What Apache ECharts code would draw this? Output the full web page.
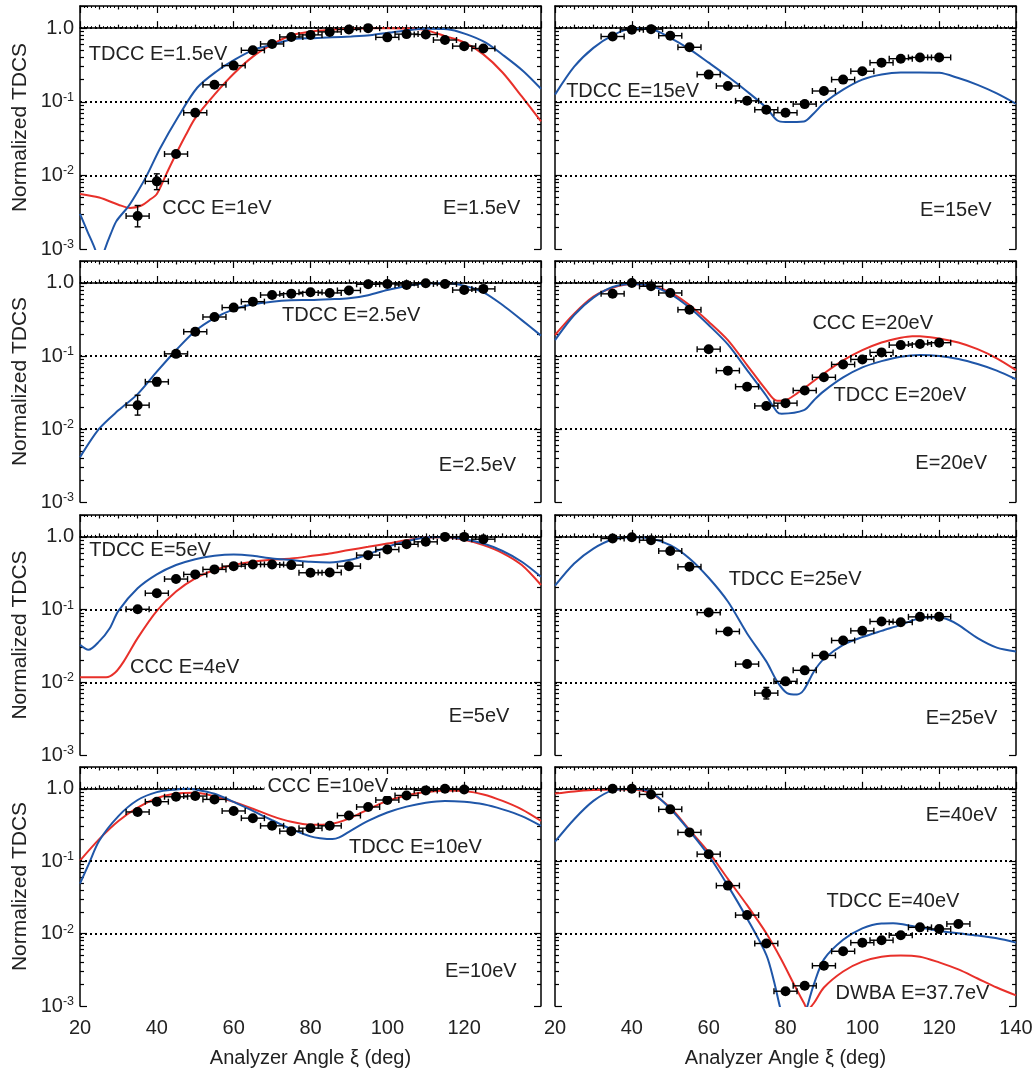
<!DOCTYPE html>
<html>
<head>
<meta charset="utf-8">
<script src="https://cdn.jsdelivr.net/npm/echarts@6/dist/echarts.min.js"></script>
<style>
  html, body { margin: 0; background: #fff; }
  #main { width: 1036px; height: 1074px; }
</style>
</head>
<body>
<div id="main"></div>
<script>
// TDCS panels, 8 energies, log y axis

const RED = '#e8302a';
const BLUE = '#1f56a8';
const INK = '#222';
const FONT = '"Liberation Sans", Arial, sans-serif';
const X_ERR = 3; // analyzer acceptance, deg
const Y_MIN = 0.001;
const Y_MAX = 2;
const GRID_VALUES = [1, 0.1, 0.01];
const MANTISSAS = [2, 3, 4, 5, 6, 7, 8, 9];
const DECADES = [-3, -2, -1, 0];

const angles = [35, 40, 45, 50, 55, 60, 65, 70, 75, 80, 85, 90, 95, 100, 105, 110, 115, 120, 125];

// measured points (same order as angles)
const exp1p5 = [0.0028, 0.0083, 0.0195, 0.071, 0.17, 0.31, 0.50, 0.61, 0.76, 0.81, 0.89, 0.96, 1.0, 0.75, 0.83, 0.82, 0.69, 0.57, 0.53];
const exp15 = [0.77, 0.95, 0.97, 0.79, 0.55, 0.234, 0.164, 0.103, 0.078, 0.071, 0.093, 0.14, 0.20, 0.26, 0.34, 0.385, 0.40, 0.40];
const exp2p5 = [0.0212, 0.0443, 0.107, 0.215, 0.342, 0.46, 0.555, 0.684, 0.714, 0.745, 0.73, 0.79, 0.96, 0.97, 0.94, 0.99, 0.97, 0.80, 0.83];
const exp20 = [0.71, 1.0, 0.90, 0.73, 0.43, 0.124, 0.063, 0.038, 0.0207, 0.0226, 0.0337, 0.051, 0.0766, 0.0897, 0.112, 0.141, 0.146, 0.152];
const exp5 = [0.101, 0.168, 0.263, 0.305, 0.357, 0.396, 0.418, 0.418, 0.409, 0.321, 0.324, 0.396, 0.561, 0.67, 0.79, 0.855, 1.0, 1.0, 0.93];
const exp25 = [0.95, 0.99, 0.90, 0.64, 0.388, 0.091, 0.050, 0.0178, 0.0071, 0.0103, 0.0146, 0.0234, 0.0376, 0.051, 0.0686, 0.067, 0.0794, 0.080];
const exp10 = [0.479, 0.664, 0.776, 0.794, 0.714, 0.494, 0.393, 0.308, 0.26, 0.286, 0.308, 0.427, 0.561, 0.70, 0.81, 0.95, 1.0, 0.98];
const exp40 = [1.0, 1.0, 0.836, 0.52, 0.25, 0.125, 0.046, 0.018, 0.0073, 0.0016, 0.0019, 0.0036, 0.0057, 0.0075, 0.0081, 0.0095, 0.0122, 0.0116, 0.0136];

// vertical error bars, by point index: [low, high]
const err1p5 = {0: [0.0020, 0.0039], 1: [0.0064, 0.0105]};
const err2p5 = {0: [0.0155, 0.029], 1: [0.039, 0.050]};
const err25 = {8: [0.0059, 0.0085]};

// theory curves [angle, TDCS]
const ccc1 = [[20, 0.0056], [25, 0.005], [30, 0.004], [33, 0.0036], [36, 0.0039], [38, 0.0046], [40, 0.0056], [42.5, 0.0105], [45, 0.0195], [47.5, 0.035], [50, 0.06], [55, 0.125], [60, 0.24], [65, 0.41], [70, 0.60], [75, 0.80], [80, 0.90], [85, 0.95], [90, 0.98], [95, 0.99], [100, 1.0], [105, 0.99], [110, 0.94], [115, 0.78], [120, 0.64], [125, 0.44], [130, 0.25], [135, 0.118], [140, 0.054]];
const tdcc1p5 = [[20, 0.003], [22, 0.0017], [23.9, 0.001], [25.2, 0.0006], [26.5, 0.001], [28, 0.0016], [29.5, 0.0024], [32.6, 0.0038], [35, 0.006], [37.4, 0.01], [40.8, 0.023], [45.6, 0.063], [50.5, 0.155], [55.6, 0.26], [60.5, 0.38], [65.6, 0.52], [70.3, 0.60], [75.5, 0.71], [80.6, 0.73], [85.6, 0.75], [90.6, 0.77], [95.5, 0.80], [100.5, 0.87], [105.4, 0.94], [110.4, 0.98], [115.6, 0.97], [120.5, 0.83], [125.5, 0.64], [130.4, 0.42], [135.4, 0.26], [140, 0.15]];
const tdcc15 = [[20, 0.125], [25, 0.30], [30, 0.54], [35, 0.80], [40, 0.98], [45, 0.97], [50, 0.74], [55, 0.52], [60, 0.34], [65, 0.22], [70, 0.138], [75, 0.083], [77.8, 0.056], [80, 0.053], [84.8, 0.054], [87.4, 0.07], [90, 0.096], [95, 0.146], [100, 0.2], [105, 0.235], [110, 0.25], [115, 0.25], [120, 0.247], [125, 0.21], [130, 0.17], [135, 0.13], [140, 0.094]];
const tdcc2p5 = [[20, 0.0041], [25, 0.0101], [30, 0.018], [35, 0.030], [40, 0.061], [45, 0.12], [50, 0.22], [55, 0.33], [60, 0.435], [65, 0.51], [70, 0.555], [75, 0.58], [80, 0.585], [85, 0.60], [90, 0.62], [95, 0.68], [100, 0.80], [105, 0.91], [110, 0.98], [115, 0.99], [120, 0.92], [125, 0.745], [130, 0.50], [135, 0.31], [140, 0.19]];
const ccc20 = [[20, 0.194], [25, 0.38], [30, 0.65], [35, 0.86], [40, 0.97], [45, 0.92], [50, 0.745], [55, 0.50], [60, 0.295], [65, 0.165], [70, 0.075], [75, 0.034], [77.8, 0.0243], [80, 0.0248], [82.6, 0.0297], [85, 0.0367], [90, 0.0576], [95, 0.087], [100, 0.12], [105, 0.153], [110, 0.178], [113, 0.187], [115, 0.186], [120, 0.174], [125, 0.153], [130, 0.124], [135, 0.093], [140, 0.064]];
const tdcc20 = [[20, 0.165], [25, 0.364], [30, 0.63], [35, 0.88], [40, 0.97], [45, 0.91], [50, 0.71], [55, 0.46], [60, 0.265], [65, 0.144], [70, 0.064], [75, 0.0285], [77.8, 0.0172], [79, 0.0162], [84.8, 0.0181], [87.4, 0.0248], [90, 0.033], [95, 0.0508], [100, 0.0697], [105, 0.085], [110, 0.0977], [115, 0.103], [120, 0.1], [125, 0.091], [130, 0.0775], [135, 0.063], [140, 0.048]];
const ccc4 = [[20, 0.0117], [26.8, 0.0117], [29.1, 0.0135], [31.4, 0.0194], [35, 0.0405], [40, 0.096], [45, 0.177], [50, 0.269], [55, 0.35], [60, 0.41], [65, 0.455], [70, 0.484], [75, 0.505], [80, 0.544], [85, 0.59], [90, 0.66], [95, 0.73], [100, 0.81], [105, 0.9], [110, 0.98], [115, 0.99], [120, 0.91], [125, 0.77], [130, 0.6], [135, 0.41], [140, 0.218]];
const tdcc5 = [[20, 0.0328], [22.2, 0.028], [25, 0.0365], [27.7, 0.055], [30, 0.096], [35, 0.196], [40, 0.305], [45, 0.41], [50, 0.494], [55, 0.55], [60, 0.573], [65, 0.55], [70, 0.505], [75, 0.48], [80, 0.455], [85, 0.445], [90, 0.48], [95, 0.573], [100, 0.73], [105, 0.87], [110, 0.98], [115, 1.0], [120, 0.93], [125, 0.81], [130, 0.64], [135, 0.455], [140, 0.283]];
const tdcc25 = [[20, 0.213], [25, 0.43], [30, 0.69], [35, 0.92], [40, 0.99], [45, 0.95], [50, 0.77], [55, 0.505], [60, 0.274], [65, 0.129], [70, 0.047], [75, 0.0194], [77.8, 0.0103], [80.4, 0.0071], [83, 0.0068], [84.8, 0.0079], [87.4, 0.0141], [90, 0.021], [95, 0.0328], [100, 0.0418], [105, 0.051], [110, 0.0617], [115, 0.076], [120, 0.0785], [122.6, 0.072], [125, 0.0617], [130, 0.0405], [135, 0.030], [140, 0.0266]];
const ccc10 = [[20, 0.102], [25, 0.202], [30, 0.36], [35, 0.55], [40, 0.74], [45, 0.863], [50, 0.88], [55, 0.79], [60, 0.66], [65, 0.53], [70, 0.42], [75, 0.35], [80, 0.318], [85, 0.325], [90, 0.388], [95, 0.52], [100, 0.68], [105, 0.81], [110, 0.9], [115, 0.95], [120, 0.93], [125, 0.836], [130, 0.68], [135, 0.52], [140, 0.36]];
const tdcc10 = [[20, 0.049], [22.3, 0.092], [25, 0.192], [30, 0.42], [35, 0.70], [40, 0.9], [45, 0.98], [48, 1.0], [50, 0.98], [55, 0.854], [60, 0.66], [65, 0.494], [70, 0.368], [75, 0.277], [80, 0.22], [82.5, 0.208], [85.7, 0.202], [87.5, 0.213], [90, 0.255], [95, 0.36], [100, 0.47], [105, 0.567], [110, 0.643], [115, 0.68], [120, 0.66], [125, 0.61], [130, 0.52], [135, 0.42], [140, 0.308]];
const dwba37 = [[20, 0.86], [25, 0.92], [30, 0.96], [35, 0.98], [40, 0.98], [45, 0.86], [50, 0.55], [55, 0.27], [60, 0.133], [65, 0.057], [70, 0.0247], [75, 0.0101], [78.7, 0.0046], [82.2, 0.002], [84.8, 0.0011], [85.8, 0.0009], [87.4, 0.0011], [90, 0.0018], [95, 0.003], [100, 0.0041], [105, 0.0048], [110, 0.005], [115, 0.0048], [120, 0.004], [125, 0.0032], [130, 0.0024], [135, 0.0018], [140, 0.0014]];
const tdcc40 = [[20, 0.186], [25, 0.38], [30, 0.68], [35, 0.95], [40, 1.0], [45, 0.9], [50, 0.53], [55, 0.263], [60, 0.12], [65, 0.046], [70, 0.0162], [75, 0.0051], [77, 0.0022], [78.5, 0.001], [82, 0.0002], [85.7, 0.001], [87.4, 0.002], [90, 0.0044], [95, 0.0082], [100, 0.0118], [105, 0.0138], [108, 0.0139], [110, 0.0136], [115, 0.0121], [120, 0.0109], [125, 0.0101], [130, 0.0094], [135, 0.0086], [140, 0.0075]];

// panel text: [label, angle at left edge, TDCS at middle, white box]
const panels = [
  {exp: exp1p5, err: err1p5, curves: [[ccc1, RED], [tdcc1p5, BLUE]],
   notes: [['TDCC E=1.5eV', 22.3, 0.44], ['CCC E=1eV', 41.4, 0.0035], ['E=1.5eV', 114.5, 0.0035]]},
  {exp: exp15, err: {}, curves: [[tdcc15, BLUE]],
   notes: [['TDCC E=15eV', 22.9, 0.138], ['E=15eV', 115, 0.0033]]},
  {exp: exp2p5, err: err2p5, curves: [[tdcc2p5, BLUE]],
   notes: [['TDCC E=2.5eV', 72.6, 0.36], ['E=2.5eV', 113.4, 0.0032]]},
  {exp: exp20, err: {}, curves: [[ccc20, RED], [tdcc20, BLUE]],
   notes: [['CCC E=20eV', 87, 0.28], ['TDCC E=20eV', 92.5, 0.029], ['E=20eV', 113.8, 0.0034]]},
  {exp: exp5, err: {}, curves: [[ccc4, RED], [tdcc5, BLUE]],
   notes: [['TDCC E=5eV', 22.4, 0.64], ['CCC E=4eV', 33, 0.0158], ['E=5eV', 116, 0.0034]]},
  {exp: exp25, err: err25, curves: [[tdcc25, BLUE]],
   notes: [['TDCC E=25eV', 65.2, 0.26], ['E=25eV', 116.5, 0.0032]]},
  {exp: exp10, err: {}, curves: [[ccc10, RED], [tdcc10, BLUE]],
   notes: [['CCC E=10eV', 68, 1.09, true], ['TDCC E=10eV', 90, 0.155], ['E=10eV', 115, 0.003]]},
  {exp: exp40, err: {}, curves: [[dwba37, RED], [tdcc40, BLUE]],
   notes: [['E=40eV', 116.5, 0.43], ['TDCC E=40eV', 90.7, 0.0275], ['DWBA E=37.7eV', 93, 0.0015]]}
];

const COL_LEFT = [80, 555];
const PANEL_W = 461;
const ROW_TOP = [6, 261, 515, 767];
const ROW_H = [243, 241, 240, 239];
const FS = 20;

const LOG_TOP = Math.log10(Y_MAX);
const minorLog = [];
DECADES.forEach(d => MANTISSAS.forEach(m => {
    const v = d + Math.log10(m);
    if (v < LOG_TOP - 1e-9) minorLog.push(v);
}));

const frame = {lineStyle: {color: '#000', width: 1.5}};
const tickStyle = {color: '#000', width: 1.2};

function logLabel(v) {
    const e = Math.log10(v);
    if (Math.abs(e - Math.round(e)) > 1e-6) return '';
    if (Math.round(e) === 0) return '{b|1.0}';
    return '{b|10}{s|' + Math.round(e) + '}';
}

function xAxes(g, col, row) {
    const bottomRow = row === 3;
    const out = [];
    ['bottom', 'top'].forEach(pos => {
        const main = pos === 'bottom';
        out.push({
            gridIndex: g, type: 'value', position: pos, min: 20, max: 140, interval: 20,
            axisLine: frame,
            axisTick: {inside: true, length: 7, lineStyle: tickStyle},
            minorTick: {show: true, splitNumber: 4, length: 3.5, lineStyle: tickStyle},
            splitLine: {show: false},
            axisLabel: {
                show: main && bottomRow, fontSize: FS, color: INK, fontFamily: FONT, margin: 12,
                formatter: v => (col === 0 && v === 140) ? '' : String(v)
            },
            name: main && bottomRow ? 'Analyzer Angle ξ (deg)' : '',
            nameLocation: 'middle', nameGap: 42,
            nameTextStyle: {fontSize: FS, color: INK, fontFamily: FONT}
        });
        out.push({
            gridIndex: g, type: 'value', position: pos, min: 20, max: 140, interval: 1,
            axisLine: {show: false},
            axisTick: {inside: true, length: 2, lineStyle: {color: '#000', width: 1}},
            axisLabel: {show: false}, splitLine: {show: false}
        });
    });
    return out;
}

function yAxes(g, col) {
    const out = [];
    ['left', 'right'].forEach(pos => {
        const main = pos === 'left';
        out.push({
            gridIndex: g, type: 'log', logBase: 10, position: pos, min: Y_MIN, max: Y_MAX,
            axisLine: frame,
            axisTick: {inside: true, length: 7, lineStyle: tickStyle},
            splitLine: {show: false},
            axisLabel: {
                show: main && col === 0, margin: 6, color: INK, fontFamily: FONT,
                formatter: logLabel,
                rich: {
                    b: {fontSize: FS, lineHeight: 22, fontFamily: FONT, color: INK},
                    s: {fontSize: 12.5, lineHeight: 12, verticalAlign: 'top', fontFamily: FONT, color: INK}
                }
            },
            name: main && col === 0 ? 'Normalized TDCS' : '',
            nameLocation: 'middle', nameRotate: 90, nameGap: 49,
            nameTextStyle: {fontSize: 21, color: INK, fontFamily: FONT}
        });
        out.push({
            gridIndex: g, type: 'value', position: pos, min: -3, max: LOG_TOP,
            axisLine: {show: false},
            axisTick: {inside: true, length: 4, customValues: minorLog, lineStyle: tickStyle},
            axisLabel: {show: false}, splitLine: {show: false}
        });
    });
    return out;
}

function drawErr(params, api) {
    const x = api.value(0), y = api.value(1), lo = api.value(2), hi = api.value(3);
    const c = api.coord([x, y]);
    const a = api.coord([x - X_ERR, y]);
    const b = api.coord([x + X_ERR, y]);
    const st = {stroke: '#000', lineWidth: 1.4};
    const cap = 3;
    const kids = [
        {type: 'line', shape: {x1: a[0], y1: c[1], x2: b[0], y2: c[1]}, style: st},
        {type: 'line', shape: {x1: a[0], y1: c[1] - cap, x2: a[0], y2: c[1] + cap}, style: st},
        {type: 'line', shape: {x1: b[0], y1: c[1] - cap, x2: b[0], y2: c[1] + cap}, style: st}
    ];
    if (lo > 0 && hi > 0) {
        const l = api.coord([x, lo]), h = api.coord([x, hi]);
        kids.push({type: 'line', shape: {x1: c[0], y1: l[1], x2: c[0], y2: h[1]}, style: st});
        kids.push({type: 'line', shape: {x1: c[0] - cap, y1: l[1], x2: c[0] + cap, y2: l[1]}, style: st});
        kids.push({type: 'line', shape: {x1: c[0] - cap, y1: h[1], x2: c[0] + cap, y2: h[1]}, style: st});
    }
    return {type: 'group', children: kids};
}

const gridDots = {
    silent: true, symbol: 'none', animation: false,
    label: {show: false},
    lineStyle: {color: '#000', type: [2, 3], width: 1.8, opacity: 1},
    data: GRID_VALUES.map(v => ({yAxis: v}))
};

const grids = [], xs = [], ys = [], series = [];
panels.forEach((p, g) => {
    const col = g % 2, row = Math.floor(g / 2);
    grids.push({left: COL_LEFT[col], top: ROW_TOP[row], width: PANEL_W, height: ROW_H[row]});
    xs.push(...xAxes(g, col, row));
    ys.push(...yAxes(g, col));
    const ax = {xAxisIndex: 4 * g, yAxisIndex: 4 * g};
    p.curves.forEach(([data, color], k) => {
        series.push(Object.assign({
            type: 'line', data, smooth: 0.3, symbol: 'none', z: 2,
            lineStyle: {color, width: 2},
            markLine: k === 0 ? gridDots : undefined
        }, ax));
    });
    series.push(Object.assign({
        type: 'custom', renderItem: drawErr, z: 3,
        encode: {x: 0, y: 1},
        data: p.exp.map((v, i) => {
            const e = p.err[i];
            return [angles[i], v, e ? e[0] : 0, e ? e[1] : 0];
        })
    }, ax));
    series.push(Object.assign({
        type: 'scatter', symbol: 'circle', symbolSize: 10, z: 4,
        itemStyle: {color: '#000', opacity: 1},
        data: p.exp.map((v, i) => [angles[i], v])
    }, ax));
});

const chart = echarts.init(document.getElementById('main'));
chart.setOption({
    animation: false,
    backgroundColor: '#fff',
    textStyle: {fontFamily: FONT},
    grid: grids,
    xAxis: xs,
    yAxis: ys,
    series
});

const notes = [];
panels.forEach((p, g) => p.notes.forEach(([text, deg, val, box]) => {
    const pt = chart.convertToPixel({xAxisIndex: 4 * g, yAxisIndex: 4 * g}, [deg, val]);
    notes.push({
        type: 'text', x: pt[0], y: pt[1], z: 10,
        style: {
            text, fontSize: FS, fontFamily: FONT, fill: INK,
            align: 'left', verticalAlign: 'middle',
            backgroundColor: box ? '#fff' : 'transparent', padding: box ? [0, 3] : 0
        }
    });
}));
chart.setOption({graphic: notes});
</script>
</body>
</html>
